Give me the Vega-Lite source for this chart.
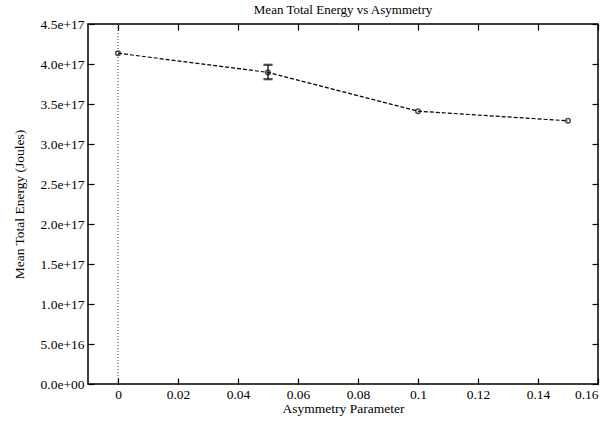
{
  "$schema": "https://vega.github.io/schema/vega-lite/v6.json",
  "autosize": "none",
  "width": 510,
  "height": 360,
  "padding": {"left": 88, "top": 24, "right": 11, "bottom": 37},
  "background": "white",
  "title": {"text": "Mean Total Energy vs Asymmetry", "font": "Liberation Serif", "fontSize": 13, "fontWeight": "normal", "color": "black", "offset": 5, "dy": 5},
  "config": {
    "view": {"stroke": "black", "strokeWidth": 1.5},
    "axis": {"labelFont": "Liberation Serif", "titleFont": "Liberation Serif", "labelFontSize": 13.5, "titleFontSize": 13.5, "titleFontWeight": "normal", "labelColor": "black", "titleColor": "black", "tickColor": "black", "grid": false, "domain": false, "tickSize": -6, "tickWidth": 1.2}
  },
  "datasets": {
    "pts": [
      {"asym": 0.0, "energy": 4.135e17},
      {"asym": 0.05, "energy": 3.895e17},
      {"asym": 0.1, "energy": 3.41e17},
      {"asym": 0.15, "energy": 3.29e17}
    ],
    "err": [
      {"asym": 0.05, "lo": 3.81e17, "hi": 3.99e17}
    ]
  },
  "layer": [
    {
      "data": {"values": [{"z": 0}]},
      "mark": {"type": "rule", "strokeDash": [1, 2], "stroke": "#333", "strokeWidth": 1},
      "encoding": {
        "x": {"field": "z", "type": "quantitative", "scale": {"domain": [-0.01, 0.16], "nice": false, "zero": false},
          "axis": {"orient": "bottom", "values": [0, 0.02, 0.04, 0.06, 0.08, 0.1, 0.12, 0.14, 0.16], "format": "~g", "title": "Asymmetry Parameter", "labelPadding": 9, "titlePadding": 1}}
      }
    },
    {
      "data": {"name": "pts"},
      "mark": {"type": "line", "strokeDash": [4, 2], "stroke": "black", "strokeWidth": 1.2},
      "encoding": {
        "x": {"field": "asym", "type": "quantitative",
          "axis": {"orient": "top", "values": [0, 0.02, 0.04, 0.06, 0.08, 0.1, 0.12, 0.14, 0.16], "labels": false, "title": null}},
        "y": {"field": "energy", "type": "quantitative", "scale": {"domain": [0, 4.5e17], "nice": false},
          "axis": {"orient": "left", "values": [0, 5e16, 1e17, 1.5e17, 2e17, 2.5e17, 3e17, 3.5e17, 4e17, 4.5e17], "labelExpr": "datum.value == 0 ? '0.0e+00' : format(datum.value, '.1e')", "title": "Mean Total Energy (Joules)", "labelPadding": 10, "titlePadding": 14}}
      }
    },
    {
      "data": {"name": "pts"},
      "mark": {"type": "point", "shape": "circle", "filled": false, "stroke": "black", "strokeWidth": 1.5, "size": 20},
      "encoding": {
        "x": {"field": "asym", "type": "quantitative", "axis": null},
        "y": {"field": "energy", "type": "quantitative",
          "axis": {"orient": "right", "values": [0, 5e16, 1e17, 1.5e17, 2e17, 2.5e17, 3e17, 3.5e17, 4e17, 4.5e17], "labels": false, "title": null}}
      }
    },
    {
      "data": {"name": "err"},
      "mark": {"type": "rule", "stroke": "black", "strokeWidth": 1.2},
      "encoding": {
        "x": {"field": "asym", "type": "quantitative", "axis": null},
        "y": {"field": "lo", "type": "quantitative", "axis": null},
        "y2": {"field": "hi"}
      }
    },
    {
      "data": {"name": "err"},
      "mark": {"type": "tick", "orient": "horizontal", "stroke": "black", "strokeWidth": 1.2, "size": 8},
      "encoding": {
        "x": {"field": "asym", "type": "quantitative", "axis": null},
        "y": {"field": "lo", "type": "quantitative", "axis": null}
      }
    },
    {
      "data": {"name": "err"},
      "mark": {"type": "tick", "orient": "horizontal", "stroke": "black", "strokeWidth": 1.2, "size": 8},
      "encoding": {
        "x": {"field": "asym", "type": "quantitative", "axis": null},
        "y": {"field": "hi", "type": "quantitative", "axis": null}
      }
    }
  ]
}
